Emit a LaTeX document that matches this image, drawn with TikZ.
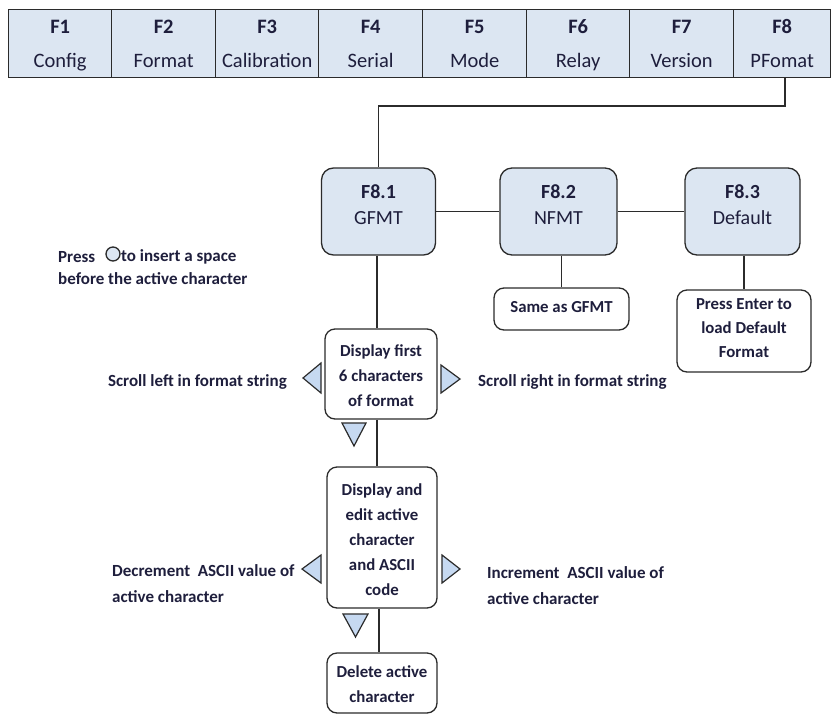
\documentclass[tikz,border=0pt]{standalone}
\usepackage{fontspec}
\setmainfont{Carlito}
\definecolor{boxblue}{HTML}{DCE6F2}
\definecolor{triblue}{HTML}{C6D9F1}
\definecolor{ink}{HTML}{1E1E3C}
\definecolor{edge}{HTML}{2B2B2B}
\newcommand{\cl}[2]{\strut\textbf{#1}\\\strut #2}
\begin{document}
\begin{tikzpicture}[x=1pt,y=-1pt,
  cell/.style={draw=edge, line width=1.3pt, fill=boxblue, minimum width=#1, minimum height=68pt,
    anchor=north west, align=center, inner sep=0pt, text=ink, font=\fontsize{20.5}{34}\selectfont},
  fbox/.style={draw=edge, line width=1.3pt, fill=boxblue, rounded corners=12pt, minimum width=114pt,
    minimum height=87pt, align=center, inner sep=0pt, text=ink, font=\fontsize{20}{26}\selectfont},
  wbox/.style={draw=edge, line width=1.3pt, fill=white, rounded corners=10pt, align=center,
    inner sep=0pt, text=ink, font=\bfseries\fontsize{16.8}{25}\selectfont},
  lbl/.style={text=ink, align=left, inner sep=0pt, font=\bfseries\fontsize{17}{26}\selectfont},
  tri/.style={draw=edge, line width=1.2pt, fill=triblue, line join=miter},
  conn/.style={draw=edge, line width=1.3pt}
]
\useasboundingbox (0,0) rectangle (832,715);
% top bar
\node[cell=103pt] (F1) at (8,9) {\cl{F1}{Config}};
\node[cell=104pt] (F2) at (111,9) {\cl{F2}{Format}};
\node[cell=103pt] (F3) at (215,9) {\cl{F3}{Calibration}};
\node[cell=104pt] (F4) at (318,9) {\cl{F4}{Serial}};
\node[cell=104pt] (F5) at (422,9) {\cl{F5}{Mode}};
\node[cell=103pt] (F6) at (526,9) {\cl{F6}{Relay}};
\node[cell=104pt] (F7) at (629,9) {\cl{F7}{Version}};
\node[cell=97pt] (F8) at (733,9) {\cl{F8}{PFomat}};
% F8 sub boxes
\node[fbox] (F81) at (378.5,211.5) {\textbf{F8.1}\\GFMT\rule[-13pt]{0pt}{0pt}};
\node[fbox, minimum width=117pt] (F82) at (558.5,211.5) {\textbf{F8.2}\\NFMT\rule[-13pt]{0pt}{0pt}};
\node[fbox, minimum width=115pt] (F83) at (742.5,211.5) {\textbf{F8.3}\\Default\rule[-13pt]{0pt}{0pt}};
\coordinate (F8d) at (785,77);
\coordinate (F8k) at (785,106);
\draw[conn] (F8d) -- (F8k) -| (F81.north);
\draw[conn] (F81.east) -- (F82.west);
\draw[conn] (F82.east) -- (F83.west);
% white boxes
\node[wbox, minimum width=135pt, minimum height=42pt] (SG) at (561.5,309) {Same as GFMT\rule[-5pt]{0pt}{0pt}};
\node[wbox, minimum width=134pt, minimum height=82pt, font=\bfseries\fontsize{16.8}{24}\selectfont] (PE) at (744,331) {Press Enter to\\load Default\\Format\rule[-6pt]{0pt}{0pt}};
\draw[conn] (F82.south -| SG.north) -- (SG.north);
\draw[conn] (F83.south -| PE.north) -- (PE.north);
\node[wbox, minimum width=112pt, minimum height=90pt] (D1) at (381,374) {\rule{0pt}{16pt}Display first\\6 characters\\of format};
\node[wbox, minimum width=110pt, minimum height=141pt] (D2) at (382,537.5) {\rule{0pt}{16pt}Display and\\edit active\\character\\and ASCII\\code};
\node[wbox, minimum width=110pt, minimum height=60pt] (D3) at (382,683) {\rule{0pt}{14pt}Delete active\\character};
\coordinate (ax) at (377,0);
\draw[conn] (F81.south -| ax) -- (D1.north -| ax);
\draw[conn] (D1.south -| ax) -- (D2.north -| ax);
\coordinate (bx) at (379,0);
\draw[conn] (D2.south -| bx) -- (D3.north -| bx);
% triangles
\draw[tri] (303,378) -- (321,363) -- (321,393) -- cycle;
\draw[tri] (460,379) -- (441,365) -- (441,393) -- cycle;
\draw[tri] (342,423) -- (366,423) -- (354,446) -- cycle;
\draw[tri] (302,569) -- (321,555) -- (321,583) -- cycle;
\draw[tri] (460,569) -- (442,555) -- (442,583) -- cycle;
\draw[tri] (343,614) -- (368,614) -- (355.5,637) -- cycle;
% labels
\node[lbl, anchor=east] (SL) at (287,382) {Scroll left in format string};
\node[lbl, anchor=west] (SR) at (478,382) {Scroll right in format string};
\node[lbl, anchor=west] (DA) at (112,584) {Decrement\ \ ASCII value of\\active character};
\node[lbl, anchor=west] (IA) at (487,586) {Increment\ \ ASCII value of\\active character};
\node[lbl, anchor=west] (PR) at (58,257) {Press};
\node[lbl, anchor=west] (PT) at (121,257) {to insert a space};
\node[lbl, anchor=west] (PB) at (58,279) {before the active character};
\draw[line width=1.3pt, draw=edge, fill=boxblue] (113,254) circle (7pt);
\end{tikzpicture}
\end{document}
